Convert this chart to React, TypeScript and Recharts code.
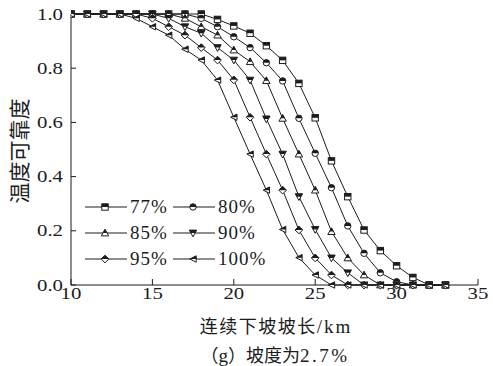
import React from 'react';
import { LineChart, Line, XAxis, YAxis } from 'recharts';

// ============================================================================
// Data
// ============================================================================

const slopeLengths = [10, 11, 12, 13, 14, 15, 16, 17, 18, 19, 20, 21, 22, 23, 24, 25, 26, 27, 28, 29, 30, 31, 32, 33];

const rel77 = [1, 1, 1, 1, 1, 1, 1, 1, 1, 0.98, 0.956, 0.929, 0.883, 0.829, 0.744, 0.617, 0.458, 0.326, 0.203, 0.127, 0.071, 0.028, 0, 0];
const rel80 = [1, 1, 1, 1, 1, 1, 1, 1, 0.984, 0.953, 0.916, 0.876, 0.82, 0.753, 0.615, 0.486, 0.359, 0.218, 0.117, 0.045, 0.012, 0, 0, 0];
const rel85 = [1, 1, 1, 1, 1, 1, 1, 0.984, 0.953, 0.922, 0.867, 0.824, 0.754, 0.615, 0.483, 0.35, 0.197, 0.1, 0.037, 0, 0, 0, 0, 0];
const rel90 = [1, 1, 1, 1, 1, 1, 0.984, 0.953, 0.929, 0.876, 0.83, 0.756, 0.613, 0.483, 0.326, 0.205, 0.1, 0.045, 0, 0, 0, 0, 0, 0];
const rel95 = [1, 1, 1, 1, 1, 0.984, 0.953, 0.922, 0.876, 0.83, 0.757, 0.619, 0.483, 0.35, 0.203, 0.1, 0.037, 0, 0, 0, 0, 0, 0, 0];
const rel100 = [1, 1, 1, 1, 0.984, 0.953, 0.922, 0.87, 0.83, 0.756, 0.619, 0.483, 0.35, 0.205, 0.101, 0.037, 0, 0, 0, 0, 0, 0, 0, 0];

const seriesNames = ['77%', '80%', '85%', '90%', '95%', '100%'];
const seriesValues = [rel77, rel80, rel85, rel90, rel95, rel100];
const seriesShapes = ['square', 'circle', 'triangle', 'down', 'diamond', 'left'];

const xTicks = [10, 15, 20, 25, 30, 35];
const yTicks = [0, 0.2, 0.4, 0.6, 0.8, 1.0];

const chartData = slopeLengths.map((len, i) => {
  const row: Record<string, number> = { len };
  seriesValues.forEach((vals, s) => {
    row[`s${s}`] = vals[i];
  });
  return row;
});

// ============================================================================
// Styles
// ============================================================================

const INK = '#1c1c1c';
const SERIF = 'Liberation Serif';
const CJK = 'Noto Sans CJK SC';
const WIDEN = 1.3; // reference glyphs are noticeably wide

if (typeof document !== 'undefined') document.body.style.margin = '0';

// ============================================================================
// Ticks (wide serif numerals)
// ============================================================================

const XTick = (props: any) => {
  const { x, y, payload } = props;
  return (
    <text
      transform={`translate(${x},${y + 6}) scale(${WIDEN},1)`}
      textAnchor="middle"
      fontFamily={SERIF}
      fontSize={16}
      fill={INK}
    >
      {payload.value}
    </text>
  );
};

const YTick = (props: any) => {
  const { x, y, payload } = props;
  return (
    <text
      transform={`translate(${x},${y + 5.5}) scale(${WIDEN},1)`}
      textAnchor="end"
      fontFamily={SERIF}
      fontSize={16}
      fill={INK}
    >
      {Number(payload.value).toFixed(1)}
    </text>
  );
};

// ============================================================================
// Markers (half filled: upper half black, lower half white)
// ============================================================================

const markerShape = (shape: string, cx: number, cy: number, r = 3.2) => {
  const pts = (a: number[][]) => a.map((p) => p.join(',')).join(' ');
  const common = { stroke: INK, strokeWidth: 1 };
  switch (shape) {
    case 'square':
      return (
        <g>
          <rect x={cx - r} y={cy - r} width={2 * r} height={2 * r} fill="#fff" {...common} />
          <rect x={cx - r} y={cy - r} width={2 * r} height={r} fill={INK} />
        </g>
      );
    case 'circle':
      return (
        <g>
          <circle cx={cx} cy={cy} r={r} fill="#fff" {...common} />
          <path d={`M${cx - r},${cy} A${r},${r} 0 0 1 ${cx + r},${cy} Z`} fill={INK} />
        </g>
      );
    case 'triangle': {
      const h1 = r * 1.2, h2 = r * 0.9, w = r * 1.15;
      const hw = (w * h1) / (h1 + h2);
      return (
        <g>
          <polygon points={pts([[cx, cy - h1], [cx + w, cy + h2], [cx - w, cy + h2]])} fill="#fff" {...common} />
          <polygon points={pts([[cx, cy - h1], [cx + hw, cy], [cx - hw, cy]])} fill={INK} />
        </g>
      );
    }
    case 'down': {
      const h1 = r * 1.2, h2 = r * 0.9, w = r * 1.15;
      const hw = (w * h1) / (h1 + h2);
      return (
        <g>
          <polygon points={pts([[cx - w, cy - h2], [cx + w, cy - h2], [cx, cy + h1]])} fill="#fff" {...common} />
          <polygon points={pts([[cx - w, cy - h2], [cx + w, cy - h2], [cx + hw, cy], [cx - hw, cy]])} fill={INK} />
        </g>
      );
    }
    case 'diamond': {
      const d = r * 1.2;
      return (
        <g>
          <polygon points={pts([[cx, cy - d], [cx + d, cy], [cx, cy + d], [cx - d, cy]])} fill="#fff" {...common} />
          <polygon points={pts([[cx, cy - d], [cx + d, cy], [cx - d, cy]])} fill={INK} />
        </g>
      );
    }
    case 'left':
    default:
      return (
        <g>
          <polygon points={pts([[cx - r, cy], [cx + r, cy - r], [cx + r, cy + r]])} fill="#fff" {...common} />
          <polygon points={pts([[cx - r, cy], [cx + r, cy - r], [cx + r, cy]])} fill={INK} />
        </g>
      );
  }
};

const makeDot = (shape: string) => (props: any) => {
  const { cx, cy, index } = props;
  if (cx == null || cy == null) return <g key={index} />;
  return <g key={`${shape}-${index}`}>{markerShape(shape, cx, cy)}</g>;
};

// ============================================================================
// Legend (overlay, so it does not take space from the plot)
// ============================================================================

const LegendBox = () => (
  <div
    style={{
      position: 'absolute', left: 84, top: 194,
      display: 'grid', gridTemplateColumns: '88px 88px', rowGap: 1,
    }}
  >
    {seriesNames.map((name, i) => (
      <div key={name} style={{ display: 'flex', alignItems: 'center', height: 25 }}>
        <svg width={44} height={14} style={{ flex: 'none' }}>
          <line x1={1} y1={7} x2={43} y2={7} stroke={INK} strokeWidth={1} />
          {markerShape(seriesShapes[i], 21, 7)}
        </svg>
        <span
          style={{
            fontFamily: SERIF, fontSize: 19, color: INK, marginLeft: 2,
            lineHeight: '19px', letterSpacing: 1,
          }}
        >
          {name}
        </span>
      </div>
    ))}
  </div>
);

// ============================================================================
// Chart
// ============================================================================

export default function App() {
  return (
    <div style={{ position: 'relative', width: 493, height: 366, background: '#fff' }}>
      <LineChart width={493} height={366} data={chartData} margin={{ top: 14, right: 15, bottom: 0, left: 0 }}>
        <XAxis
          dataKey="len"
          type="number"
          domain={[10, 35]}
          ticks={xTicks}
          allowDataOverflow
          height={81}
          tickSize={-6}
          tickMargin={14}
          stroke={INK}
          tick={<XTick />}
        />
        <YAxis
          type="number"
          domain={[0, 1]}
          ticks={yTicks}
          width={71}
          tickSize={-5}
          tickMargin={13}
          stroke={INK}
          tick={<YTick />}
        />
        {seriesNames.map((name, s) => (
          <Line
            key={name}
            name={name}
            dataKey={`s${s}`}
            type="linear"
            stroke={INK}
            strokeWidth={1}
            dot={makeDot(seriesShapes[s])}
            activeDot={false}
            isAnimationActive={false}
          />
        ))}
      </LineChart>
      <LegendBox />
      <div
        style={{
          position: 'absolute', left: 18, top: 151, transform: 'translate(-50%, -50%) rotate(-90deg)',
          fontFamily: CJK, fontSize: 21, color: INK, whiteSpace: 'nowrap', lineHeight: 1,
        }}
      >
        温度可靠度
      </div>
      <div
        style={{
          position: 'absolute', left: 276, top: 326, transform: 'translate(-50%, -50%)',
          fontFamily: SERIF, fontSize: 19, color: INK, whiteSpace: 'nowrap', lineHeight: 1,
        }}
      >
        <span style={{ fontFamily: CJK, fontSize: 18, letterSpacing: 1.5 }}>连续下坡坡长</span>
        <span style={{ letterSpacing: 2 }}>/km</span>
      </div>
      <div
        style={{
          position: 'absolute', left: 275, top: 355, transform: 'translate(-50%, -50%)',
          fontFamily: SERIF, fontSize: 19, color: INK, whiteSpace: 'nowrap', lineHeight: 1,
        }}
      >
        <span style={{ fontFamily: CJK, fontSize: 18 }}>（</span>g
        <span style={{ fontFamily: CJK, fontSize: 18 }}>）坡度为</span>
        <span style={{ letterSpacing: 2.5 }}>2.7%</span>
      </div>
    </div>
  );
}
